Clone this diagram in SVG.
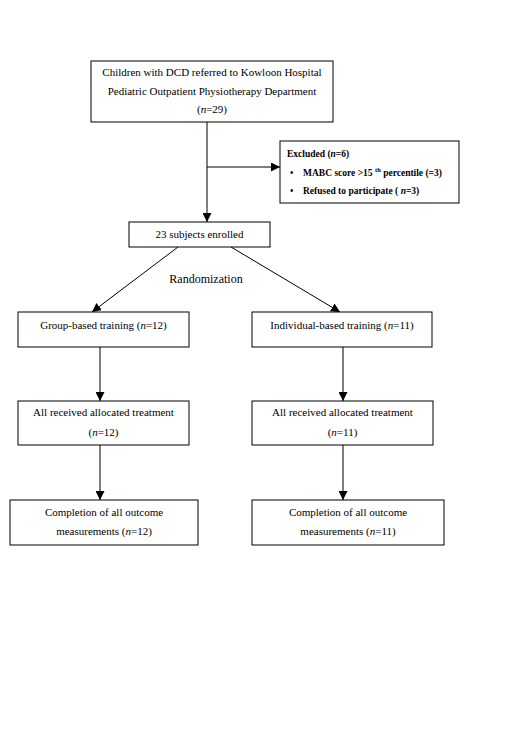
<svg xmlns="http://www.w3.org/2000/svg" width="521" height="755" viewBox="0 0 521 755">
<defs>
<style>
.box{fill:#fff;stroke:#000;stroke-width:1}
.t{font-family:"Liberation Serif","Times New Roman",serif;font-size:11px;fill:#000;text-anchor:middle}
.b{font-family:"Liberation Serif","Times New Roman",serif;font-size:9.5px;font-weight:bold;fill:#000}
.ln{stroke:#000;stroke-width:1;fill:none}
</style>
<marker id="ah" viewBox="0 0 10 10" refX="10" refY="5" markerWidth="9" markerHeight="9" markerUnits="userSpaceOnUse" orient="auto">
<path d="M0,0 L10,5 L0,10 z" fill="#000"/>
</marker>
</defs>
<rect width="521" height="755" fill="#fff"/>
<g id="connectors">
<line class="ln" x1="207" y1="122" x2="207" y2="222" marker-end="url(#ah)"/>
<line class="ln" x1="207" y1="167" x2="280" y2="167" marker-end="url(#ah)"/>
<line class="ln" x1="178" y1="247" x2="92" y2="312" marker-end="url(#ah)"/>
<line class="ln" x1="231" y1="247" x2="340" y2="312" marker-end="url(#ah)"/>
<line class="ln" x1="100" y1="347" x2="100" y2="401" marker-end="url(#ah)"/>
<line class="ln" x1="343" y1="347" x2="343" y2="401" marker-end="url(#ah)"/>
<line class="ln" x1="100" y1="445" x2="100" y2="500" marker-end="url(#ah)"/>
<line class="ln" x1="343" y1="445" x2="343" y2="500" marker-end="url(#ah)"/>
</g>
<g id="referred">
<rect class="box" x="91" y="61" width="242" height="61"/>
<text class="t" x="212" y="76">Children with DCD referred to Kowloon Hospital</text>
<text class="t" x="212" y="95">Pediatric Outpatient Physiotherapy Department</text>
<text class="t" x="212" y="113">(<tspan font-style="italic">n</tspan>=29)</text>
</g>
<g id="excluded">
<rect class="box" x="280" y="141" width="179" height="62"/>
<text class="b" x="287" y="157">Excluded (<tspan font-style="italic">n</tspan>=6)</text>
<text class="b" x="290" y="176">•</text>
<text class="b" x="303" y="176">MABC score &gt;15 <tspan font-size="6.5px" dy="-4">th</tspan><tspan dy="4"> percentile (=3)</tspan></text>
<text class="b" x="290" y="194">•</text>
<text class="b" x="303" y="194">Refused to participate ( <tspan font-style="italic">n</tspan>=3)</text>
</g>
<g id="enrolled">
<rect class="box" x="129" y="222" width="141" height="25"/>
<text class="t" x="199.5" y="238">23 subjects enrolled</text>
</g>
<text id="randomization" x="206" y="283" font-family="Liberation Serif, Times New Roman, serif" font-size="12px" text-anchor="middle">Randomization</text>
<g id="group">
<rect class="box" x="18" y="312" width="171" height="35"/>
<text class="t" x="103.5" y="329">Group-based training (<tspan font-style="italic">n</tspan>=12)</text>
</g>
<g id="individual">
<rect class="box" x="252" y="312" width="180" height="35"/>
<text class="t" x="342" y="329">Individual-based training (<tspan font-style="italic">n</tspan>=11)</text>
</g>
<g id="received-left">
<rect class="box" x="18" y="401" width="171" height="44"/>
<text class="t" x="103.5" y="416">All received allocated treatment</text>
<text class="t" x="103.5" y="436">(<tspan font-style="italic">n</tspan>=12)</text>
</g>
<g id="received-right">
<rect class="box" x="252" y="401" width="181" height="44"/>
<text class="t" x="342.5" y="416">All received allocated treatment</text>
<text class="t" x="342.5" y="436">(<tspan font-style="italic">n</tspan>=11)</text>
</g>
<g id="completion-left">
<rect class="box" x="10" y="500" width="188" height="45"/>
<text class="t" x="104" y="516">Completion of all outcome</text>
<text class="t" x="104" y="535">measurements (<tspan font-style="italic">n</tspan>=12)</text>
</g>
<g id="completion-right">
<rect class="box" x="252" y="500" width="192" height="45"/>
<text class="t" x="348" y="516">Completion of all outcome</text>
<text class="t" x="348" y="535">measurements (<tspan font-style="italic">n</tspan>=11)</text>
</g>
</svg>
